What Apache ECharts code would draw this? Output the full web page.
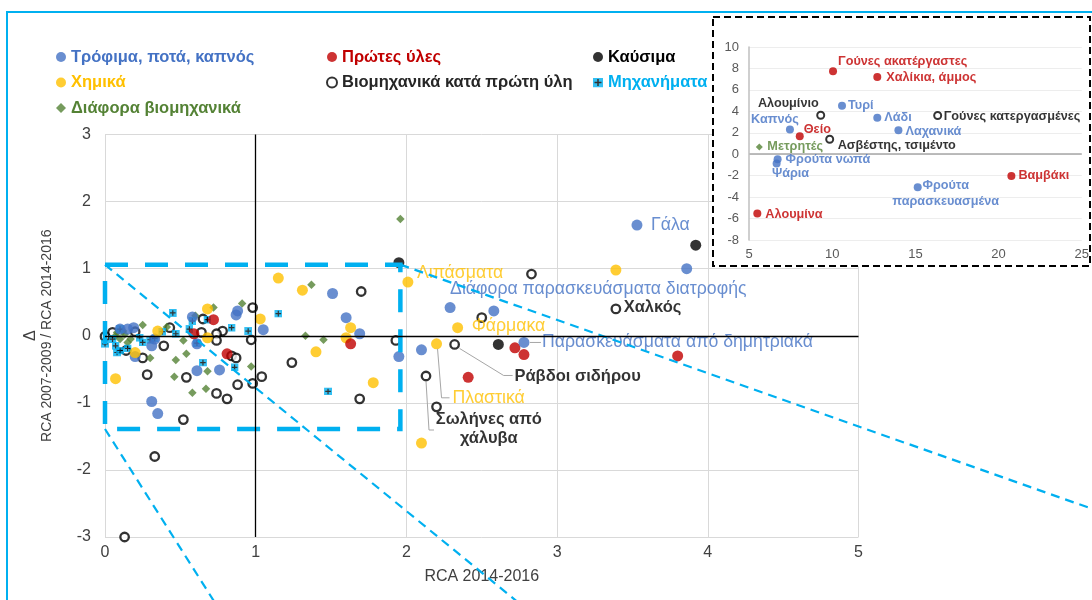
<!DOCTYPE html>
<html><head><meta charset="utf-8">
<script src="https://cdn.jsdelivr.net/npm/echarts@6/dist/echarts.min.js"></script>
<style>html,body{margin:0;padding:0;background:#fff}#c{width:1092px;height:600px}</style>
</head><body><div id="c"></div>
<script>
// ---------- DATA ----------
const seriesNames = ['Τρόφιμα, ποτά, καπνός','Πρώτες ύλες','Καύσιμα','Χημικά','Βιομηχανικά κατά πρώτη ύλη','Μηχανήματα','Διάφορα βιομηχανικά'];
const xTicks = [0,1,2,3,4,5];
const yTicks = [-3,-2,-1,0,1,2,3];

const foodPts = [[3.86,1.0],[2.58,0.37],[1.95,-0.31],[2.1,-0.21],[1.51,0.63],[1.6,0.27],[1.69,0.03],[1.05,0.09],[0.88,0.37],[0.87,0.31],[0.58,0.28],[0.61,-0.12],[0.31,-0.15],[0.19,0.12],[0.15,0.1],[0.2,-0.31],[0.61,-0.52],[0.76,-0.51],[0.31,-0.98],[0.35,-1.16],[0.1,0.1],[0.33,-0.05]];
const foodLabeled = [['Γάλα',3.53,1.65],['Διάφορα παρασκευάσματα διατροφής',2.29,0.42],['Παρασκευάσματα από δημητριακά',2.78,-0.1]];
const rawPts = [[2.41,-0.62],[2.72,-0.18],[2.78,-0.28],[3.8,-0.3],[1.63,-0.12],[0.72,0.24],[0.59,0.03],[0.81,-0.27]];
const fuelPts = [[3.92,1.35],[1.95,1.09],[2.61,-0.13]];
const chemPts = [[3.39,0.98],[2.1,-1.6],[1.15,0.86],[1.31,0.68],[1.63,0.12],[1.6,-0.03],[1.4,-0.24],[1.78,-0.7],[1.03,0.25],[0.68,0.4],[0.68,-0.03],[0.35,0.07],[0.2,-0.25],[0.07,-0.64]];
const chemLabeled = [['Λιπάσματα',2.01,0.8],['Φάρμακα',2.34,0.12],['Πλαστικά',2.2,-0.12]];
const indPts = [[2.83,0.92],[2.5,0.27],[1.93,-0.07],[2.2,-1.06],[1.7,0.66],[1.69,-0.94],[1.24,-0.4],[0.98,0.42],[0.97,-0.06],[0.78,0.07],[0.74,0.03],[0.74,-0.07],[0.64,0.05],[0.65,0.25],[0.43,0.12],[0.39,-0.15],[0.2,0.06],[0.05,0.05],[0.0,-0.01],[0.14,-0.22],[0.25,-0.33],[0.54,-0.62],[0.84,-0.3],[0.87,-0.33],[1.04,-0.61],[0.98,-0.71],[0.88,-0.73],[0.28,-0.58],[0.74,-0.86],[0.81,-0.94],[0.52,-1.25],[0.33,-1.8],[0.13,-3.0]];
const indLabeled = [['Χαλκός',3.39,0.4],['Ράβδοι σιδήρου',2.32,-0.13],['Σωλήνες από\nχάλυβα',2.13,-0.6]];
const machPts = [[1.48,-0.83],[1.15,0.33],[0.84,0.12],[0.95,0.07],[0.68,0.24],[0.58,0.22],[0.56,0.1],[0.61,-0.11],[0.45,0.34],[0.47,0.03],[0.38,0.06],[0.23,-0.03],[0.3,-0.06],[0.1,0.1],[0.0,-0.12],[0.08,-0.25],[0.15,-0.19],[0.65,-0.4],[0.86,-0.47],[0.05,-0.05],[0.1,-0.22],[0.25,-0.1],[0.33,-0.04],[0.07,-0.15]];
const miscPts = [[1.96,1.74],[1.37,0.76],[1.33,0.0],[1.45,-0.06],[0.91,0.48],[0.72,0.42],[0.6,0.3],[0.41,0.13],[0.52,-0.07],[0.25,0.16],[0.12,0.07],[0.3,-0.33],[0.47,-0.36],[0.54,-0.27],[0.46,-0.61],[0.68,-0.53],[0.97,-0.46],[0.58,-0.85],[0.67,-0.79],[0.07,0.0],[0.1,-0.05],[0.13,0.02],[0.17,-0.05],[0.08,0.05],[0.15,-0.1]];

// inset (zoomed-out view)
const insetXTicks = [5,10,15,20,25];
const insetYTicks = [-8,-6,-4,-2,0,2,4,6,8,10];
const insetFood = [['Καπνός',7.46,2.3],['Τυρί',10.59,4.51],['Λάδι',12.71,3.39],['Λαχανικά',13.98,2.24],['Φρούτα νωπά',6.72,-0.47],['Ψάρια',6.66,-0.87],['Φρούτα\nπαρασκευασμένα',15.14,-3.08]];
const insetRaw = [['Γούνες ακατέργαστες',10.05,7.74],['Χαλίκια, άμμος',12.71,7.21],['Θείο',8.05,1.68],['Βαμβάκι',20.77,-2.02],['Αλουμίνα',5.5,-5.53]];
const insetInd = [['Αλουμίνιο',9.31,3.64],['Γούνες κατεργασμένες',16.34,3.61],['Ασβέστης, τσιμέντο',9.85,1.4]];
const insetMisc = [['Μετρητές',5.62,0.68]];

// zoom box annotation (data units)
const zoomBox = [0, -1.39, 1.96, 1.06];
const projLines = [[[0,1.06],[3.0,-4.45]],[[0,-1.39],[0.8,-4.23]],[[1.96,1.06],[6.6,-2.62]]];

// ---------- STYLE ----------
const FONT = '"Liberation Sans", Arial, sans-serif';
const COL = {food:'#4472C4', raw:'#C00000', fuel:'#000000', chem:'#FFC000', ind:'#000000', mach:'#00B0F0', misc:'#548235'};
const machSvg = '<svg xmlns="http://www.w3.org/2000/svg" width="20" height="20" viewBox="0 0 20 20"><rect width="20" height="20" fill="#00B0F0"/><path d="M10 3V17M3 10H17" stroke="#000" stroke-width="3"/></svg>';
const MACH_ICON = 'image://data:image/svg+xml;charset=utf-8,' + encodeURIComponent(machSvg);

const MAIN_LABEL = {
  'Γάλα': {dx:14, dy:0, align:'left'},
  'Διάφορα παρασκευάσματα διατροφής': {dx:0, dy:-18, align:'left'},
  'Παρασκευάσματα από δημητριακά': {dx:18, dy:0, align:'left', leader:[[6,0],[17,0]]},
  'Λιπάσματα': {dx:9, dy:-9, align:'left'},
  'Φάρμακα': {dx:14, dy:-2, align:'left'},
  'Πλαστικά': {dx:16, dy:54, align:'left', leader:[[1,5],[5,54],[13,54]]},
  'Χαλκός': {dx:9, dy:0, align:'left'},
  'Ράβδοι σιδήρου': {dx:61, dy:33, align:'left', leader:[[5,4],[49,31],[58,31]]},
  'Σωλήνες από\nχάλυβα': {dx:64, dy:54, align:'center', leader:[[0,5],[3,54],[8,54]]}
};
const INSET_LABEL = {
  'Γούνες ακατέργαστες':[5,-10,'left'], 'Χαλίκια, άμμος':[9,1,'left'], 'Αλουμίνιο':[-1,-11,'right'],
  'Καπνός':[-15,-10,'center'], 'Θείο':[4,-7,'left'], 'Τυρί':[6,0,'left'], 'Λάδι':[7,0,'left'],
  'Λαχανικά':[7,1,'left'], 'Γούνες κατεργασμένες':[7,2,'left'], 'Ασβέστης, τσιμέντο':[9,7,'left'],
  'Μετρητές':[8,0,'left'], 'Φρούτα νωπά':[8,0,'left'], 'Ψάρια':[14,10,'center'], 'Βαμβάκι':[7,0,'left'],
  'Φρούτα\nπαρασκευασμένα':[28,6,'center'], 'Αλουμίνα':[8,1,'left']
};

function lbl(text, dx, dy, align, color, size, weight, sym){
  return {show:true, formatter:text, position:[dx+sym/2, dy+sym/2], align:align, verticalAlign:'middle',
    color:color, fontSize:size, fontWeight:weight, fontFamily:FONT, lineHeight:size+3};
}
function mainLabeled(arr, color, size, weight, sym){
  return arr.map(function(d){ const c = MAIN_LABEL[d[0]];
    return {name:d[0], value:[d[1],d[2]], label:lbl(d[0], c.dx, c.dy, c.align, color, size, weight, sym)}; });
}
function insetData(arr, color, sym){
  return arr.map(function(d){ const c = INSET_LABEL[d[0]];
    return {name:d[0], value:[d[1],d[2]], label:lbl(d[0], c[0], c[1], c[2], color, 12.7, 'bold', sym)}; });
}

const S_FOOD = {symbol:'circle', symbolSize:11, itemStyle:{color:COL.food}};
const S_RAW = {symbol:'circle', symbolSize:11, itemStyle:{color:COL.raw}};
const S_FUEL = {symbol:'circle', symbolSize:11, itemStyle:{color:COL.fuel}};
const S_CHEM = {symbol:'circle', symbolSize:11, itemStyle:{color:COL.chem}};
const S_IND = {symbol:'circle', symbolSize:8.5, itemStyle:{color:'#FFFFFF', borderColor:'#000000', borderWidth:2.3}};
const S_MACH = {symbol:MACH_ICON, symbolSize:8, itemStyle:{color:COL.mach}};
const S_MISC = {symbol:'diamond', symbolSize:8.5, itemStyle:{color:COL.misc}};

function sc(name, data, style, extra){
  return Object.assign({type:'scatter', name:name, data:data, xAxisIndex:0, yAxisIndex:0, z:2, silent:true, animation:false,
    symbol:style.symbol, symbolSize:style.symbolSize, itemStyle:style.itemStyle}, extra||{});
}
function isc(name, data, style, size, extra){
  return Object.assign({type:'scatter', name:name, data:data, xAxisIndex:1, yAxisIndex:1, z:6, silent:true, animation:false,
    symbol:style.symbol, symbolSize:size, itemStyle:style.itemStyle}, extra||{});
}

const series = [
  sc(seriesNames[4], indPts, S_IND),
  sc(seriesNames[6], miscPts, S_MISC),
  sc(seriesNames[5], machPts, S_MACH),
  sc(seriesNames[0], foodPts, S_FOOD, {markLine:{silent:true, symbol:'none', animation:false, label:{show:false},
      lineStyle:{color:'#000', width:1.3, type:'solid'}, data:[{yAxis:0},{xAxis:1}]}}),
  sc(seriesNames[3], chemPts, S_CHEM),
  sc(seriesNames[1], rawPts, S_RAW),
  sc(seriesNames[2], fuelPts, S_FUEL),
  sc(seriesNames[0], mainLabeled(foodLabeled, COL.food, 17.7, 'normal', 11), S_FOOD),
  sc(seriesNames[3], mainLabeled(chemLabeled, COL.chem, 17.7, 'normal', 11), S_CHEM),
  sc(seriesNames[4], mainLabeled(indLabeled, '#000', 16.5, 'bold', 8.5), S_IND),
  // inset
  isc('inset-food', insetData(insetFood, COL.food, 8), S_FOOD, 8, {markLine:{silent:true, symbol:'none', animation:false, label:{show:false},
      lineStyle:{color:'#A6A6A6', width:1.5, type:'solid'}, data:[{yAxis:0}]}}),
  isc('inset-raw', insetData(insetRaw, COL.raw, 8), S_RAW, 8),
  isc('inset-ind', insetData(insetInd, '#000', 7), {symbol:'circle', itemStyle:{color:'#fff', borderColor:'#000', borderWidth:2}}, 7),
  isc('inset-misc', insetData(insetMisc, COL.misc, 7), S_MISC, 7)
];

const legendBase = {orient:'vertical', padding:0, itemGap:7.5, itemWidth:10, itemHeight:10, top:48, selectedMode:false,
  textStyle:{fontSize:16.5, fontWeight:'bold', fontFamily:FONT, lineHeight:18}};
function li(name, color, extra){ return Object.assign({name:name, textStyle:{color:color}}, extra||{}); }

const chart = echarts.init(document.getElementById('c'), null, {renderer:'canvas'});
chart.setOption({
  backgroundColor:'#ffffff',
  animation:false,
  textStyle:{fontFamily:FONT},
  legend:[
    Object.assign({}, legendBase, {left:56, data:[li(seriesNames[0],COL.food), li(seriesNames[3],COL.chem), li(seriesNames[6],COL.misc)]}),
    Object.assign({}, legendBase, {left:326, data:[li(seriesNames[1],COL.raw), li(seriesNames[4],'#262626',{itemStyle:{color:'#fff',borderColor:'#000',borderWidth:2}})]}),
    Object.assign({}, legendBase, {left:593, data:[li(seriesNames[2],'#000'), li(seriesNames[5],COL.mach,{icon:MACH_ICON})]})
  ],
  grid:[{left:105, right:233.5, top:134.5, bottom:63}, {left:749, right:9, top:47, bottom:360}],
  xAxis:[
    {gridIndex:0, type:'value', min:xTicks[0], max:xTicks[xTicks.length-1], interval:1,
     axisLine:{show:false}, axisTick:{show:false}, splitLine:{lineStyle:{color:'#D9D9D9', width:1}},
     axisLabel:{fontSize:16, color:'#404040', margin:8, fontFamily:FONT},
     name:'RCA 2014-2016', nameLocation:'middle', nameGap:32, nameTextStyle:{fontSize:16, color:'#404040', fontFamily:FONT}},
    {gridIndex:1, type:'value', min:insetXTicks[0], max:insetXTicks[insetXTicks.length-1], interval:5, z:5,
     axisLine:{show:false}, axisTick:{show:false}, splitLine:{show:false},
     axisLabel:{fontSize:13, color:'#595959', margin:8, fontFamily:FONT}}
  ],
  yAxis:[
    {gridIndex:0, type:'value', min:yTicks[0], max:yTicks[yTicks.length-1], interval:1,
     axisLine:{show:false}, axisTick:{show:false}, splitLine:{lineStyle:{color:'#D9D9D9', width:1}},
     axisLabel:{fontSize:16, color:'#404040', margin:14, fontFamily:FONT},
     name:'{a|Δ}\n{b|RCA 2007-2009 / RCA 2014-2016}', nameLocation:'middle', nameRotate:90, nameGap:49,
     nameTextStyle:{rich:{a:{fontSize:16, color:'#404040', lineHeight:16, fontFamily:FONT}, b:{fontSize:14, color:'#404040', lineHeight:17, fontFamily:FONT}}}},
    {gridIndex:1, type:'value', min:insetYTicks[0], max:insetYTicks[insetYTicks.length-1], interval:2, z:5,
     axisLine:{show:true, onZero:false, lineStyle:{color:'#BFBFBF', width:1.5}}, axisTick:{show:false},
     splitLine:{lineStyle:{color:'#EDEDED', width:1}},
     axisLabel:{fontSize:13, color:'#595959', margin:10, fontFamily:FONT}}
  ],
  series:series
});

// ---------- annotations (computed from data coordinates) ----------
const px = function(x,y){ return chart.convertToPixel({gridIndex:0},[x,y]); };
const g = [];
g.push({type:'rect', z:0, silent:true, shape:{x:7, y:12, width:1100, height:600}, style:{fill:'none', stroke:'#00B0F0', lineWidth:2}});
g.push({type:'rect', z:3, silent:true, shape:{x:713, y:17, width:377, height:249}, style:{fill:'#ffffff', stroke:'#000000', lineWidth:2, lineDash:[7,4]}});
const b0 = px(zoomBox[0], zoomBox[3]), b1 = px(zoomBox[2], zoomBox[1]);
g.push({type:'rect', z:4, silent:true, shape:{x:b0[0], y:b0[1], width:b1[0]-b0[0], height:b1[1]-b0[1]},
  style:{fill:'none', stroke:'#00B0F0', lineWidth:4.5, lineDash:[23,17]}});
projLines.forEach(function(l){ const a = px(l[0][0], l[0][1]), b = px(l[1][0], l[1][1]);
  g.push({type:'line', z:4, silent:true, shape:{x1:a[0], y1:a[1], x2:b[0], y2:b[1]}, style:{stroke:'#00B0F0', lineWidth:2.2, lineDash:[9,6]}}); });
foodLabeled.concat(chemLabeled, indLabeled).forEach(function(d){
  const c = MAIN_LABEL[d[0]]; if(!c.leader) return; const p = px(d[1], d[2]);
  g.push({type:'polyline', z:4, silent:true, shape:{points:c.leader.map(function(q){return [p[0]+q[0], p[1]+q[1]];})},
    style:{fill:'none', stroke:'#A6A6A6', lineWidth:1}});
});
chart.setOption({graphic:g});
</script></body></html>
